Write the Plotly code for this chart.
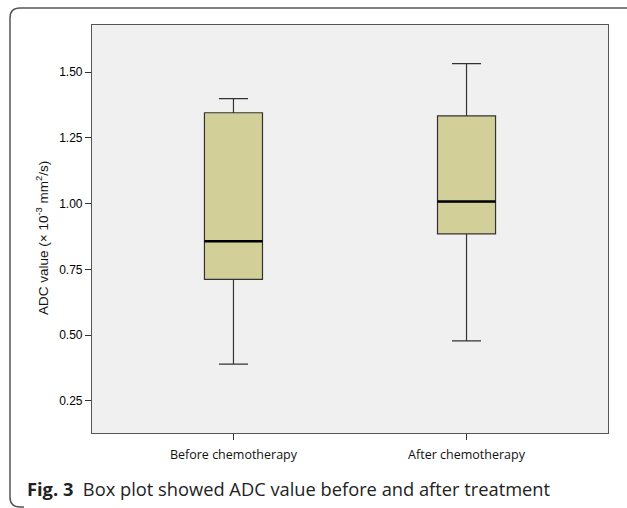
import plotly.graph_objects as go

categories = ["Before chemotherapy", "After chemotherapy"]
lower_whisker = [0.389, 0.478]
q1_values = [0.712, 0.885]
median_values = [0.857, 1.008]
q3_values = [1.346, 1.334]
upper_whisker = [1.400, 1.533]
y_ticks = [0.25, 0.50, 0.75, 1.00, 1.25, 1.50]

W, H = 627, 508
L, T, R, B = 92, 25, 608, 433
PW, PH = R - L, B - T

def px(x):
    return (x - L) / PW

def py(y):
    return (B - y) / PH

box_w = 0.249
positions = list(range(len(categories)))

fig = go.Figure()
for i, cat in enumerate(categories):
    fig.add_trace(go.Box(
        x=[positions[i]], q1=[q1_values[i]], median=[median_values[i]], q3=[q3_values[i]],
        lowerfence=[lower_whisker[i]], upperfence=[upper_whisker[i]],
        width=box_w, whiskerwidth=0.5,
        fillcolor="#d3cf98", line=dict(color="#333333", width=1.2),
        boxpoints=False, showlegend=False, hoverinfo="skip", name=cat,
    ))

mx, my = [], []
for i in positions:
    mx += [i - box_w / 2, i + box_w / 2, None]
    my += [median_values[i], median_values[i], None]
fig.add_trace(go.Scatter(x=mx, y=my, mode="lines", line=dict(color="#000000", width=2.5),
                         showlegend=False, hoverinfo="skip"))

fig.update_layout(
    width=W, height=H,
    margin=dict(l=L, r=W - R, t=T, b=H - B),
    paper_bgcolor="white", plot_bgcolor="#f0f0f0",
    xaxis=dict(range=[-0.607, 1.607], tickvals=positions, ticktext=categories,
               showgrid=False, zeroline=False, showline=True, mirror=True,
               linecolor="#555555", linewidth=1.2, ticks="outside", ticklen=6,
               ticklabelstandoff=4,
               tickcolor="#333333", tickfont=dict(family="Open Sans", size=12.5, color="#111111")),
    yaxis=dict(range=[0.127, 1.68], tickvals=y_ticks, ticktext=[f"{v:.2f}" for v in y_ticks],
               showgrid=False, zeroline=False, showline=True, mirror=True,
               linecolor="#555555", linewidth=1.2, ticks="outside", ticklen=6,
               tickcolor="#333333", tickfont=dict(family="Liberation Sans", size=12, color="#000000")),
    annotations=[
        dict(text="ADC value (× 10<sup>-3</sup> mm<sup>2</sup>/s)", xref="paper", yref="paper",
             x=px(42), y=py(238), xanchor="center", yanchor="middle", textangle=-90,
             showarrow=False, font=dict(family="Liberation Sans", size=13.5, color="#111111")),
        dict(text="<b>Fig. 3</b>  Box plot showed ADC value before and after treatment",
             xref="paper", yref="paper", x=px(25), y=py(488), xanchor="left", yanchor="middle",
             showarrow=False, font=dict(family="Open Sans", size=18.3, color="#222222")),
    ],
    shapes=[
        dict(type="path", xref="paper", yref="paper",
             path=(f"M {px(627)},{py(8)} L {px(20)},{py(8)} Q {px(10)},{py(8)} {px(10)},{py(18)} "
                   f"L {px(10)},{py(497)} Q {px(10)},{py(507)} {px(20)},{py(507)} L {px(24)},{py(507)}"),
             line=dict(color="#555555", width=1.5)),
    ],
)

fig.write_html("out.html", config={"displayModeBar": False},
               post_script="document.body.style.margin='0px';")
